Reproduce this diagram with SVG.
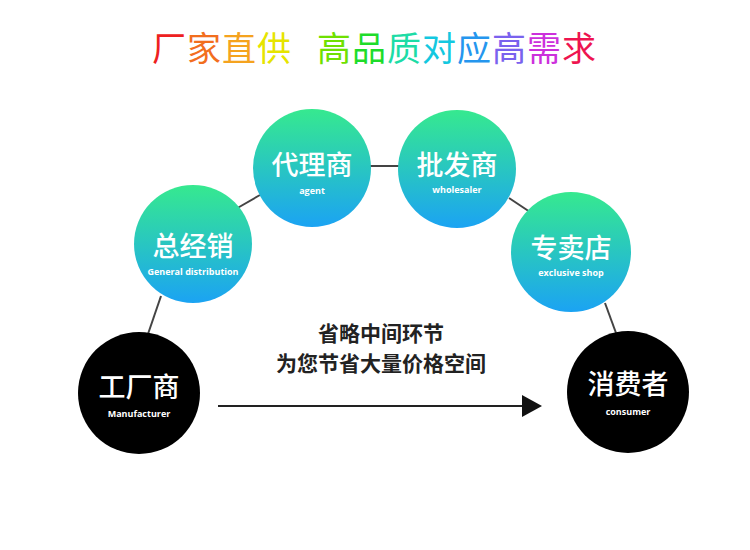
<svg xmlns="http://www.w3.org/2000/svg" width="750" height="550" viewBox="0 0 750 550">
  <defs>
    <linearGradient id="tealGrad" x1="0" y1="0" x2="0" y2="1">
      <stop offset="0" stop-color="#36e98f"/>
      <stop offset="1" stop-color="#1ba3f3"/>
    </linearGradient>
    <style>
      .title { font-family: "Noto Sans CJK SC", sans-serif; font-size: 34px; font-weight: 400; }
      .teal { fill: url(#tealGrad); }
      .dark { fill: #000; }
      .cn { font-family: "Noto Sans CJK SC", sans-serif; font-size: 27px; font-weight: 500; fill: #fff; text-anchor: middle; }
      .en { font-family: "Open Sans", "Liberation Sans", sans-serif; font-size: 9px; font-weight: 700; fill: #fff; text-anchor: middle; }
      .mid { font-family: "Noto Sans CJK SC", sans-serif; font-size: 21px; font-weight: 700; fill: #222; text-anchor: middle; }
      .conn { stroke: #444; stroke-width: 2; fill: none; }
      .arrow { stroke: #222; stroke-width: 2; fill: none; }
    </style>
  </defs>
  <rect width="750" height="550" fill="#fff"/>

  <text class="title" y="61">
    <tspan x="152" fill="#ee2020">厂</tspan>
    <tspan x="187" fill="#f26e1e">家</tspan>
    <tspan x="222" fill="#f5a31f">直</tspan>
    <tspan x="257" fill="#e6e400">供</tspan>
    <tspan x="317" fill="#6fe000">高</tspan>
    <tspan x="352" fill="#1edc2a">品</tspan>
    <tspan x="387" fill="#1ddca6">质</tspan>
    <tspan x="422" fill="#13c8e0">对</tspan>
    <tspan x="457" fill="#2596ee">应</tspan>
    <tspan x="492" fill="#7a62ee">高</tspan>
    <tspan x="527" fill="#cc30dc">需</tspan>
    <tspan x="562" fill="#ee1450">求</tspan>
  </text>

  <g id="connectors">
    <line class="conn" x1="148" y1="334" x2="161" y2="296"/>
    <line class="conn" x1="234" y1="210" x2="260" y2="195"/>
    <line class="conn" x1="370" y1="166" x2="399" y2="166"/>
    <line class="conn" x1="509" y1="198" x2="530" y2="212"/>
    <line class="conn" x1="605" y1="303" x2="616" y2="333"/>
    <line class="arrow" x1="218" y1="406" x2="524" y2="406"/>
    <polygon points="522,395 542,406 522,417" fill="#111"/>
  </g>

  <g id="manufacturer">
    <circle class="dark" cx="139" cy="393" r="61"/>
    <text class="cn" x="139" y="397">工厂商</text>
    <text class="en" x="139" y="417">Manufacturer</text>
  </g>

  <g id="general">
    <circle class="teal" cx="193" cy="244" r="59"/>
    <text class="cn" x="193" y="256">总经销</text>
    <text class="en" x="193" y="275">General distribution</text>
  </g>

  <g id="agent">
    <circle class="teal" cx="312" cy="168" r="59"/>
    <text class="cn" x="312" y="175">代理商</text>
    <text class="en" x="312" y="194">agent</text>
  </g>

  <g id="wholesaler">
    <circle class="teal" cx="457" cy="169" r="59"/>
    <text class="cn" x="457" y="175">批发商</text>
    <text class="en" x="457" y="193">wholesaler</text>
  </g>

  <g id="shop">
    <circle class="teal" cx="571" cy="252" r="60"/>
    <text class="cn" x="571" y="258">专卖店</text>
    <text class="en" x="571" y="276">exclusive shop</text>
  </g>

  <g id="consumer">
    <circle class="dark" cx="628" cy="392" r="61"/>
    <text class="cn" x="628" y="394">消费者</text>
    <text class="en" x="628" y="415">consumer</text>
  </g>

  <g id="note">
    <text class="mid" x="381" y="341">省略中间环节</text>
    <text class="mid" x="381" y="371">为您节省大量价格空间</text>
  </g>
</svg>
